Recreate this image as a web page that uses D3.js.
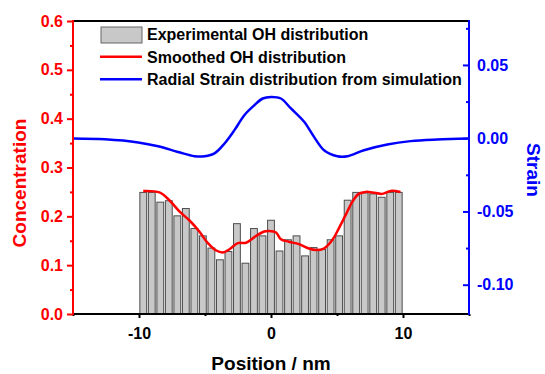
<!DOCTYPE html>
<html>
<head>
<meta charset="utf-8">
<script src="https://cdn.jsdelivr.net/npm/d3@7"></script>
<style>
  body { margin: 0; background: #fff; }
  svg { font-family: "Liberation Sans", Arial, sans-serif; font-weight: bold; }
</style>
</head>
<body>
<div id="chart"></div>
<script>
// experimental OH bars, 31 bins between -10 and 10 nm
const barValues = [0.249, 0.249, 0.229, 0.232, 0.201, 0.216, 0.175, 0.160, 0.135, 0.111,
  0.128, 0.185, 0.104, 0.175, 0.160, 0.192, 0.129, 0.152, 0.160, 0.119,
  0.136, 0.132, 0.152, 0.160, 0.233, 0.249, 0.248, 0.246, 0.239, 0.249, 0.249];
const barRange = [-10, 10];

// smoothed OH distribution
const smoothX = [-9.68, -8.45, -7.70, -6.94, -6.19, -5.43, -4.78, -4.15, -3.65, -3.17,
  -2.51, -1.89, -1.13, -0.51, -0.15, 0.38, 0.75, 1.36, 2.11, 2.87,
  3.40, 4.00, 4.66, 5.13, 5.66, 6.17, 6.64, 7.17, 7.68, 8.43, 9.06, 9.81];
const smoothY = [0.252, 0.249, 0.233, 0.210, 0.192, 0.169, 0.145, 0.130, 0.126, 0.132,
  0.145, 0.146, 0.160, 0.169, 0.170, 0.167, 0.153, 0.148, 0.143, 0.134,
  0.131, 0.134, 0.152, 0.175, 0.203, 0.230, 0.246, 0.250, 0.249, 0.246, 0.252, 0.250];

// radial strain from simulation
const strainX = [-15, -12.58, -10.06, -8.55, -7.04, -5.79, -5.03, -4.28, -3.52, -2.77,
  -2.02, -1.26, -0.63, 0, 0.75, 1.51, 2.51, 3.26, 4.02, 5.03,
  5.79, 7.04, 8.81, 10.57, 12.58, 15];
const strainY = [-0.0002, -0.0008, -0.0029, -0.0055, -0.0094, -0.0123, -0.0123, -0.0104, -0.0036, 0.0055,
  0.0157, 0.0225, 0.0271, 0.0282, 0.0271, 0.0203, 0.0112, 0.0009, -0.0082, -0.0123,
  -0.0123, -0.0082, -0.0043, -0.0020, -0.0009, -0.0002];

const xTicks = [-10, 0, 10];
const xMinor = [-15, -5, 5, 15];
const yLeftTicks = [0, 0.1, 0.2, 0.3, 0.4, 0.5, 0.6];
const yLeftMinor = [0.05, 0.15, 0.25, 0.35, 0.45, 0.55];
const yRightTicks = [-0.10, -0.05, 0, 0.05];
const yRightMinor = [-0.075, -0.025, 0.025, 0.075];

const legendLabels = ['Experimental OH distribution', 'Smoothed OH distribution',
  'Radial Strain distribution from simulation'];

const width = 545, height = 374;
const margin = {top: 21, right: 76, bottom: 60, left: 73};

const svg = d3.select('#chart').append('svg')
  .attr('width', width)
  .attr('height', height);

const x = d3.scaleLinear().domain([-15, 15]).range([margin.left, width - margin.right]);
const yL = d3.scaleLinear().domain([0, 0.6]).range([height - margin.bottom, margin.top]);
const yR = d3.scaleLinear().domain([-0.12, 0.08]).range([height - margin.bottom, margin.top]);

const band = d3.scaleBand()
  .domain(d3.range(barValues.length))
  .range([x(barRange[0]), x(barRange[1])])
  .paddingInner(0.2)
  .paddingOuter(0.1);

const hyphen = f => d => f(d).replace('\u2212', '-');

// bars
svg.append('g')
  .selectAll('rect')
  .data(barValues)
  .join('rect')
  .attr('x', (d, i) => band(i))
  .attr('width', band.bandwidth())
  .attr('y', d => yL(d))
  .attr('height', d => yL(0) - yL(d))
  .attr('fill', '#c8c8c8')
  .attr('stroke', '#4d4d4d')
  .attr('stroke-width', 1);

// smoothed line
const redLine = d3.line()
  .x((d, i) => x(smoothX[i]))
  .y(d => yL(d))
  .curve(d3.curveCatmullRom);

svg.append('path')
  .attr('d', redLine(smoothY))
  .attr('fill', 'none')
  .attr('stroke', '#ff0000')
  .attr('stroke-width', 2.5);

// strain line
const blueLine = d3.line()
  .x((d, i) => x(strainX[i]))
  .y(d => yR(d))
  .curve(d3.curveCatmullRom);

svg.append('path')
  .attr('d', blueLine(strainY))
  .attr('fill', 'none')
  .attr('stroke', '#0000ff')
  .attr('stroke-width', 2.5);

// axes
function styleAxis(g, color) {
  g.select('.domain').remove();
  g.selectAll('line').attr('stroke', color).attr('stroke-width', 2);
  g.selectAll('text').attr('fill', color).style('font-size', '16px').style('font-weight', 'bold');
}

// bottom
svg.append('g')
  .attr('transform', `translate(0,${yL(0)})`)
  .call(d3.axisBottom(x).tickValues(xTicks).tickSize(4).tickPadding(10).tickFormat(hyphen(d3.format('d'))))
  .call(g => styleAxis(g, '#000'));
svg.append('g')
  .attr('transform', `translate(0,${yL(0)})`)
  .call(d3.axisBottom(x).tickValues(xMinor).tickSize(2).tickFormat(''))
  .call(g => styleAxis(g, '#000'));

// left
svg.append('g')
  .attr('transform', `translate(${x(-15)},0)`)
  .call(d3.axisLeft(yL).tickValues(yLeftTicks).tickSize(6).tickPadding(4).tickFormat(d3.format('.1f')))
  .call(g => styleAxis(g, '#ff0000'));
svg.append('g')
  .attr('transform', `translate(${x(-15)},0)`)
  .call(d3.axisLeft(yL).tickValues(yLeftMinor).tickSize(3).tickFormat(''))
  .call(g => styleAxis(g, '#ff0000'));

// right (ticks point inward)
svg.append('g')
  .attr('transform', `translate(${x(15)},0)`)
  .call(d3.axisRight(yR).tickValues(yRightTicks).tickSize(-6).tickPadding(8).tickFormat(hyphen(d3.format('.2f'))))
  .call(g => styleAxis(g, '#0000ff'));
svg.append('g')
  .attr('transform', `translate(${x(15)},0)`)
  .call(d3.axisRight(yR).tickValues(yRightMinor).tickSize(-3).tickFormat(''))
  .call(g => styleAxis(g, '#0000ff'));

// frame lines
svg.append('line')
  .attr('x1', x(-15)).attr('x2', x(15)).attr('y1', yL(0.6)).attr('y2', yL(0.6))
  .attr('stroke', '#000').attr('stroke-width', 2);
svg.append('line')
  .attr('x1', x(-15)).attr('x2', x(15)).attr('y1', yL(0)).attr('y2', yL(0))
  .attr('stroke', '#000').attr('stroke-width', 2);
svg.append('line')
  .attr('x1', x(-15)).attr('x2', x(-15)).attr('y1', yL(0) + 1).attr('y2', yL(0.6) - 1)
  .attr('stroke', '#ff0000').attr('stroke-width', 2);
svg.append('line')
  .attr('x1', x(15)).attr('x2', x(15)).attr('y1', yL(0) + 1).attr('y2', yL(0.6) - 1)
  .attr('stroke', '#0000ff').attr('stroke-width', 2);

// axis titles
svg.append('text')
  .attr('x', (x(-15) + x(15)) / 2)
  .attr('y', 370)
  .attr('text-anchor', 'middle')
  .style('font-size', '19px')
  .text('Position / nm');

svg.append('text')
  .attr('transform', `translate(26,${183}) rotate(-90)`)
  .attr('text-anchor', 'middle')
  .attr('fill', '#ff0000')
  .style('font-size', '19px')
  .text('Concentration');

svg.append('text')
  .attr('transform', `translate(527,${170}) rotate(90)`)
  .attr('text-anchor', 'middle')
  .attr('fill', '#0000ff')
  .style('font-size', '19px')
  .text('Strain');

// legend
const legend = svg.append('g').attr('transform', 'translate(101,0)');
legend.append('rect')
  .attr('x', 0).attr('y', 27).attr('width', 41).attr('height', 16)
  .attr('fill', '#c8c8c8').attr('stroke', '#666').attr('stroke-width', 1);
legend.append('line')
  .attr('x1', -1).attr('x2', 41).attr('y1', 56.7).attr('y2', 56.7)
  .attr('stroke', '#ff0000').attr('stroke-width', 2.5);
legend.append('line')
  .attr('x1', -1).attr('x2', 41).attr('y1', 79.3).attr('y2', 79.3)
  .attr('stroke', '#0000ff').attr('stroke-width', 2.5);
legend.selectAll('text.lg')
  .data(legendLabels)
  .join('text')
  .attr('class', 'lg')
  .attr('x', 46)
  .attr('y', (d, i) => 40 + i * 22.7)
  .attr('fill', '#000')
  .style('font-size', '16px')
  .text(d => d);
</script>
</body>
</html>
